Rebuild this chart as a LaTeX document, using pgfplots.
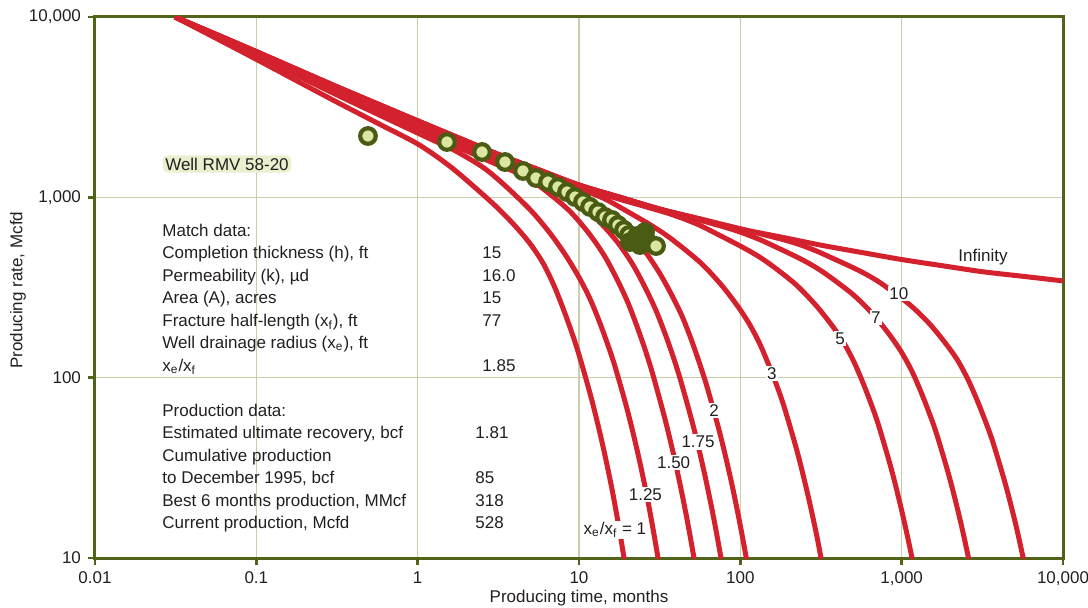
\documentclass[border=0pt]{standalone}
\usepackage{fontspec}
\setmainfont{Liberation Sans}
\usepackage{pgfplots}
\pgfplotsset{compat=1.18}
\definecolor{cred}{RGB}{211,33,45}
\definecolor{olv}{RGB}{82,99,26}
\definecolor{gridc}{RGB}{200,205,170}
\definecolor{ring}{RGB}{74,92,20}
\definecolor{ringfill}{RGB}{218,230,162}
\definecolor{halo}{RGB}{232,240,206}
\definecolor{txt}{RGB}{35,31,32}
\begin{document}
\begin{tikzpicture}[font=\fontsize{8.5}{10}\selectfont,
  lbl/.style={fill=white, inner sep=0.8pt, text=txt, anchor=center}]
\useasboundingbox (-47.5pt,-24.5pt) rectangle (496.5pt,279pt);
\begin{axis}[
  scale only axis, width=484pt, height=270.5pt,
  xmode=log, ymode=log,
  xmin=0.01, xmax=10000, ymin=10, ymax=10000,
  xtick={0.01,0.1,1,10,100,1000,10000},
  xticklabels={0.01,0.1,1,10,100,{1,000},{10,000}},
  ytick={10,100,1000,10000},
  yticklabels={10,100,{1,000},{10,000}},
  minor tick num=0, minor tick style={draw=none},
  grid=major, major grid style={draw=gridc, line width=0.8pt},
  axis line style={draw=olv, line width=1.5pt},
  tick style={draw=olv, line width=1.3pt},
  major tick length=3.5pt, tick align=outside, tick pos=left,
  tick label style={font=\fontsize{8.5}{10}\selectfont, text=txt},
  xlabel={Producing time, months}, ylabel={Producing rate, Mcfd},
  label style={font=\fontsize{8.5}{10}\selectfont, text=txt},
  xlabel style={at={(axis description cs:0.5,-0.074)}, anchor=center},
  ylabel style={at={(axis description cs:-0.0795,0.495)}, anchor=center},
  tc/.style={color=cred, line width=2.5pt, smooth, mark=none},
]
% Infinity
\addplot[tc] coordinates {(0.0313,10000)(0.0562,8017)(0.1,6427)(0.1778,5134)(0.3162,4102)(0.5623,3300)(1,2655)(1.778,2143)(3.162,1730)(5.623,1422)(10,1170)(17.78,1003)(31.62,861)(56.23,759)(100,668)(177.8,603)(316.2,543)(562.3,495)(1000,452)(1778,418)(3162,387)(5623,365)(10000,344)};
% xe/xf = 10
\addplot[tc] coordinates {(0.0313,10000)(0.0562,8017)(0.1,6427)(0.1778,5134)(0.3162,4102)(0.5623,3300)(1,2655)(1.778,2143)(3.162,1730)(5.623,1422)(10,1170)(17.78,1003)(31.62,861)(56.23,759)(184,583)(276,517)(368,462)(552,390)(736,336)(1104,257)(1472,201)(1840,158)(2208,126)(2576,97.7)(2944,74.5)(3312,57.0)(3680,43.8)(4416,25.3)(5152,14.7)(5888,8.5)};
% 7
\addplot[tc] coordinates {(0.0313,10000)(0.0562,8017)(0.1,6427)(0.1778,5134)(0.3162,4102)(0.5623,3300)(1,2655)(1.778,2143)(3.162,1730)(5.623,1422)(10,1170)(17.78,1003)(31.62,861)(82.5,678)(123.75,597)(165,532)(247.5,446)(330,382)(495,291)(660,226)(825,177)(990,140)(1155,109)(1320,83.0)(1485,63.4)(1650,48.5)(1980,27.9)(2310,16.1)(2640,9.3)(2970,5.3)};
% 5
\addplot[tc] coordinates {(0.0313,10000)(0.0562,7998)(0.1,6397)(0.1778,5099)(0.3162,4064)(0.5623,3263)(1,2618)(1.778,2109)(3.162,1698)(5.623,1393)(10,1143)(17.78,977)(35.9,814)(53.85,711)(71.8,626)(107.7,518)(143.6,443)(215.4,335)(287.2,258)(359,202)(430.8,160)(502.6,124)(574.4,94.1)(646.2,71.7)(718,54.7)(861.6,31.3)(1005,18.0)(1149,10.4)(1292,5.9)};
% 3
\addplot[tc] coordinates {(0.0313,10000)(0.0562,7980)(0.1,6368)(0.1778,5063)(0.3162,4027)(0.5623,3225)(1,2582)(1.778,2075)(3.162,1667)(9.365,1143)(14.05,992)(18.73,862)(28.1,698)(37.46,587)(56.19,437)(74.92,333)(93.65,258)(112.4,202)(131.1,156)(149.8,118)(168.6,90)(187.3,68.5)(224.8,39.1)(262.2,22.4)(299.7,12.9)(337.1,7.3)};
% 2
\addplot[tc] coordinates {(0.0313,10000)(0.0562,7947)(0.1,6316)(0.1778,5002)(0.3162,3962)(0.5623,3160)(1,2520)(3.132,1620)(4.698,1403)(6.264,1266)(9.396,1052)(12.53,895)(18.79,684)(25.06,515)(31.32,385)(37.58,287)(43.85,216)(50.11,159)(56.38,117)(62.64,87)(75.17,48.1)(87.7,26.8)(100.2,14.96)(112.8,8.4)};
% 1.75
\addplot[tc] coordinates {(0.0313,10000)(0.0562,7924)(0.1,6280)(0.1778,4959)(0.3162,3917)(0.5623,3114)(1,2477)(2.147,1836)(3.22,1567)(4.294,1413)(6.441,1197)(8.588,1001)(12.88,756)(17.18,569)(21.47,426)(25.76,315)(30.06,235)(34.35,173)(38.65,128)(42.94,94.6)(51.53,52.3)(60.12,29.1)(68.7,16.3)(77.29,9.11)(85.88,5.1)};
% 1.50
\addplot[tc] coordinates {(0.0313,10000)(0.0562,7879)(0.1,6208)(0.1778,4874)(0.3162,3827)(0.5623,3026)(1.435,2070)(2.1525,1759)(2.87,1566)(4.305,1344)(5.74,1148)(8.61,851)(11.48,634)(14.35,475)(17.22,351)(20.09,261)(22.96,191)(25.83,141)(28.7,104)(34.44,57.1)(40.18,31.8)(45.92,17.8)(51.66,9.96)(57.4,5.6)};
% 1.25
\addplot[tc] coordinates {(0.0313,10000)(0.0562,7810)(0.1,6100)(0.1778,4749)(0.3162,3696)(0.832,2455)(1.248,2072)(1.664,1837)(2.496,1483)(3.328,1204)(4.992,852)(6.656,628)(8.32,473)(9.984,361)(11.65,276)(13.31,207)(14.98,155)(16.64,117)(19.97,65.8)(23.3,37.2)(26.62,21.1)(29.95,11.8)(33.28,6.6)};
% 1
\addplot[tc] coordinates {(0.0313,10000)(0.0562,7628)(0.1,5824)(0.1778,4430)(0.3162,3371)(0.5623,2582)(1,1978)(1.5,1543)(2,1250)(3,905)(4,697)(5,550)(6,430)(7,324)(8,240)(9,179)(10,134)(12,75.3)(14,42.6)(16,24.2)(18,13.5)(20,7.55)};
% well data
\addplot[only marks, mark=*, mark size=3.9pt, mark options={draw=ring, fill=ringfill, line width=2.1pt}] coordinates {(0.492,2188)(1.52,2027)(2.505,1784)(3.478,1570)(4.497,1400)(5.414,1280)(6.426,1216)(7.41,1141)(8.43,1070)(9.45,1004)(10.59,942)(11.70,884)(13.12,829)(14.50,778)(16.02,749)(17.45,702)(19.01,659)(20.42,618)};
\addplot[only marks, mark=*, mark size=3.9pt, mark options={draw=ring, fill=ring, line width=2.1pt}] coordinates {(20.71,565)(22.88,610)(25.66,642)(26.03,580)(23.88,544)};
\addplot[only marks, mark=*, mark size=3.9pt, mark options={draw=ring, fill=ringfill, line width=2.1pt}] coordinates {(30.02,537)};
% curve labels
\node[lbl] at (axis cs:960,292) {10};
\node[lbl] at (axis cs:693,215) {7};
\node[lbl] at (axis cs:415,164) {5};
\node[lbl] at (axis cs:157,105) {3};
\node[lbl] at (axis cs:68.7,66) {2};
\node[lbl] at (axis cs:54.7,44) {1.75};
\node[lbl] at (axis cs:38.6,34) {1.50};
\node[lbl] at (axis cs:25.8,22.5) {1.25};
\node[lbl] at (axis cs:16.7,14.3) {x\textsubscript{e}/x\textsubscript{f} = 1};
\node[text=txt, anchor=center] at (axis cs:3192,467) {Infinity};
\end{axis}
% well label with light halo
\node[fill=halo, rounded corners=2.5pt, inner sep=1.2pt, text=txt, anchor=center] at (66pt,197pt) {Well RMV 58-20};
% match data
\begin{scope}[every node/.style={text=txt, anchor=base west, inner sep=0pt}]
\node at (33.5pt,161pt) {Match data:};
\node at (33.5pt,149.75pt) {Completion thickness (h), ft};
\node at (33.5pt,138.5pt) {Permeability (k), µd};
\node at (33.5pt,127.25pt) {Area (A), acres};
\node at (33.5pt,116pt) {Fracture half-length (x\textsubscript{f}), ft};
\node at (33.5pt,104.75pt) {Well drainage radius (x\textsubscript{e}), ft};
\node at (33.5pt,93.5pt) {x\textsubscript{e}/x\textsubscript{f}};
\node at (193.5pt,149.75pt) {15};
\node at (193.5pt,138.5pt) {16.0};
\node at (193.5pt,127.25pt) {15};
\node at (193.5pt,116pt) {77};
\node at (193.5pt,93.5pt) {1.85};
\node at (33.5pt,71pt) {Production data:};
\node at (33.5pt,59.75pt) {Estimated ultimate recovery, bcf};
\node at (33.5pt,48.5pt) {Cumulative production};
\node at (33.5pt,37.25pt) {to December 1995, bcf};
\node at (33.5pt,26pt) {Best 6 months production, MMcf};
\node at (33.5pt,14.75pt) {Current production, Mcfd};
\node at (190pt,59.75pt) {1.81};
\node at (190pt,37.25pt) {85};
\node at (190pt,26pt) {318};
\node at (190pt,14.75pt) {528};
\end{scope}
\end{tikzpicture}
\end{document}
